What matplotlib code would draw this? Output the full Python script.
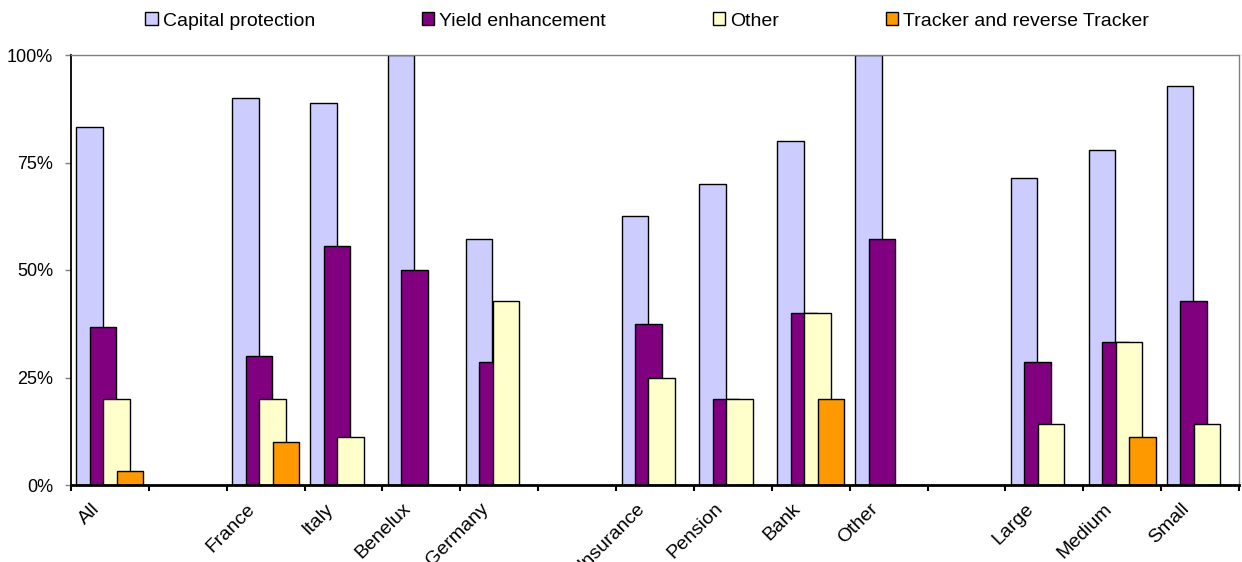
import numpy as np
import matplotlib
matplotlib.use("Agg")
from matplotlib import pyplot as plt
from matplotlib.transforms import ScaledTranslation

plt.rcParams['font.family'] = ['Liberation Sans', 'DejaVu Sans']

# empty strings are the blank slots between groups
categories = ['All', '', 'France', 'Italy', 'Benelux', 'Germany', '',
              'Insurance', 'Pension', 'Bank', 'Other', '',
              'Large', 'Medium', 'Small']

nan = np.nan
capital = [83.3, nan, 90.0, 88.9, 100.0, 57.1, nan,
           62.5, 70.0, 80.0, 100.0, nan, 71.4, 77.8, 92.9]
yield_enh = [36.7, nan, 30.0, 55.6, 50.0, 28.6, nan,
             37.5, 20.0, 40.0, 57.1, nan, 28.6, 33.3, 42.9]
other = [20.0, nan, 20.0, 11.1, 0.0, 42.9, nan,
         25.0, 20.0, 40.0, 0.0, nan, 14.3, 33.3, 14.3]
tracker = [3.3, nan, 10.0, 0.0, 0.0, 0.0, nan,
           0.0, 0.0, 20.0, 0.0, nan, 0.0, 11.1, 0.0]

series = ['Capital protection', 'Yield enhancement', 'Other',
          'Tracker and reverse Tracker']
colors = ['#CCCCFF', '#800080', '#FFFFCC', '#FF9900']
yticks = [0, 25, 50, 75, 100]
ytick_labels = ['0%', '25%', '50%', '75%', '100%']

fig = plt.figure(figsize=(12.42, 5.62), dpi=100)
ax = fig.add_axes([71 / 1242, 1 - 485 / 562, (1239 - 71) / 1242, (485 - 55) / 562])

x = np.arange(len(categories))
step = 0.173
width = 0.34
for k, (vals, name, col) in enumerate(zip([capital, yield_enh, other, tracker],
                                          series, colors)):
    ax.bar(x + (k - 1.5) * step, vals, width, color=col, edgecolor='black',
           linewidth=1.0, label=name)

ax.set_xlim(-0.5, len(categories) - 0.5)
ax.set_ylim(0, 100)

ax.set_yticks(yticks)
ax.set_yticklabels(ytick_labels, fontsize=13)
ax.tick_params(axis='y', direction='out', length=4, width=1, color='#808080', pad=9)

ax.set_xticks(x)
ax.set_xticklabels(categories, fontsize=14, rotation=45, ha='right',
                   va='top', rotation_mode='anchor')
ax.tick_params(axis='x', which='major', length=0, pad=11)
ax.set_xticks(np.arange(-0.5, len(categories)), minor=True)
ax.tick_params(axis='x', which='minor', direction='out', length=4, width=1.5,
               color='black')
for lab in ax.get_xticklabels():
    lab.set_transform(lab.get_transform() + ScaledTranslation(-0.19, 0, fig.dpi_scale_trans))

ax.spines['left'].set_color('black')
ax.spines['left'].set_linewidth(1.3)
ax.spines['bottom'].set_color('black')
ax.spines['bottom'].set_linewidth(2)
ax.spines['top'].set_color('#808080')
ax.spines['right'].set_color('#808080')
ax.spines['top'].set_linewidth(1)
ax.spines['right'].set_linewidth(1)

fig.legend(loc='center', bbox_to_anchor=(647 / 1242, 1 - 21 / 562), ncol=4,
           frameon=False, fontsize=14, handlelength=0.62, handleheight=0.62,
           handletextpad=0.26, columnspacing=5.5, borderpad=0)

fig.savefig('out.png', dpi=100)
